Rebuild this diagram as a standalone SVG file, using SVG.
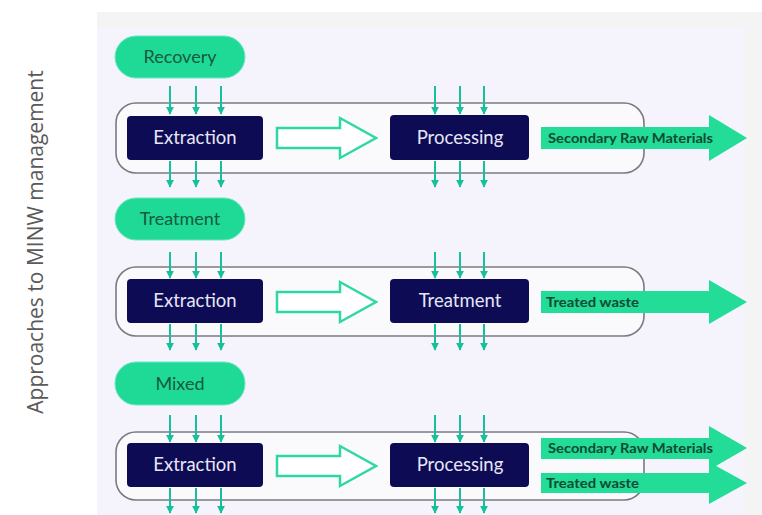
<svg xmlns="http://www.w3.org/2000/svg" width="762" height="515" viewBox="0 0 762 515">
  <defs>
    <marker id="tip" viewBox="0 0 10 10" refX="9" refY="5" markerWidth="8" markerHeight="8" markerUnits="userSpaceOnUse" orient="auto">
      <path d="M0,0 L10,5 L0,10 Z" fill="#17c09c"/>
    </marker>
    <style>
      .pill { fill: #1fd996; stroke: #6fe8bf; stroke-width: 1; }
      .pill-label { font-family: "Lato", "Liberation Sans", sans-serif; font-size: 18px; fill: #155a3e; text-anchor: middle; }
      .lane { fill: #fafafd; stroke: #7a7a80; stroke-width: 1.6; }
      .step { fill: #0e0b55; }
      .step-label { font-family: "Lato", "Liberation Sans", sans-serif; font-size: 18.5px; fill: #e6e6f5; text-anchor: middle; }
      .flow { fill: #ffffff; stroke: #2fd8a2; stroke-width: 2.5; stroke-linejoin: miter; }
      .out { fill: #22dc98; }
      .out-label { font-family: "Lato", "Liberation Sans", sans-serif; font-size: 13.5px; font-weight: bold; fill: #114a32; }
      .io { stroke: #17c09c; stroke-width: 2; fill: none; marker-end: url(#tip); }
      .axis { font-family: "Open Sans", "Liberation Sans", sans-serif; font-size: 21px; fill: #5a5a5a; text-anchor: middle; }
    </style>
  </defs>

  <!-- page background -->
  <rect x="0" y="0" width="762" height="515" fill="#ffffff"/>
  <rect x="97" y="12" width="665" height="503" fill="#f4f4f5"/>
  <rect x="97" y="28" width="648" height="487" fill="#f5f4fc"/>

  <text class="axis" transform="translate(43,242) rotate(-90)">Approaches to MINW management</text>

  <!-- lanes -->
  <g id="lane-recovery">
    <rect class="lane" x="116" y="103" width="528" height="70" rx="20"/>
  </g>
  <g id="lane-treatment">
    <rect class="lane" x="116" y="267" width="528" height="69" rx="20"/>
  </g>
  <g id="lane-mixed">
    <rect class="lane" x="116" y="432" width="528" height="68" rx="20"/>
  </g>

  <!-- approach labels -->
  <g id="approach-recovery">
    <rect class="pill" x="115" y="36" width="130" height="42" rx="21"/>
    <text class="pill-label" x="180" y="63">Recovery</text>
  </g>
  <g id="approach-treatment">
    <rect class="pill" x="115" y="198" width="130" height="42" rx="21"/>
    <text class="pill-label" x="180" y="225">Treatment</text>
  </g>
  <g id="approach-mixed">
    <rect class="pill" x="115" y="362" width="130" height="43" rx="21"/>
    <text class="pill-label" x="180" y="390">Mixed</text>
  </g>

  <!-- process steps -->
  <g id="extraction-1">
    <rect class="step" x="127" y="116" width="136" height="44" rx="4"/>
    <text class="step-label" x="195" y="144">Extraction</text>
  </g>
  <g id="processing-1">
    <rect class="step" x="390" y="115" width="139" height="45" rx="4"/>
    <text class="step-label" x="460" y="144">Processing</text>
  </g>
  <g id="extraction-2">
    <rect class="step" x="127" y="279" width="136" height="44" rx="4"/>
    <text class="step-label" x="195" y="307">Extraction</text>
  </g>
  <g id="treatment-2">
    <rect class="step" x="390" y="279" width="139" height="44" rx="4"/>
    <text class="step-label" x="460" y="307">Treatment</text>
  </g>
  <g id="extraction-3">
    <rect class="step" x="127" y="443" width="136" height="44" rx="4"/>
    <text class="step-label" x="195" y="471">Extraction</text>
  </g>
  <g id="processing-3">
    <rect class="step" x="390" y="443" width="139" height="44" rx="4"/>
    <text class="step-label" x="460" y="471">Processing</text>
  </g>

  <!-- outputs -->
  <g id="output-1">
    <path class="out" d="M541,127 H709 V115 L747,138 L709,161 V149 H541 Z"/>
    <text class="out-label" x="548" y="143" textLength="165" lengthAdjust="spacingAndGlyphs">Secondary Raw Materials</text>
  </g>
  <g id="output-2">
    <path class="out" d="M541,291 H709 V280 L747,302 L709,324 V313 H541 Z"/>
    <text class="out-label" x="546" y="307" textLength="93" lengthAdjust="spacingAndGlyphs">Treated waste</text>
  </g>
  <g id="output-3a">
    <path class="out" d="M541,438 H709 V426 L747,448 L709,470 V459 H541 Z"/>
    <text class="out-label" x="548" y="453" textLength="165" lengthAdjust="spacingAndGlyphs">Secondary Raw Materials</text>
  </g>
  <g id="output-3b">
    <path class="out" d="M541,473 H709 V462 L747,483 L709,504 V493 H541 Z"/>
    <text class="out-label" x="546" y="488" textLength="93" lengthAdjust="spacingAndGlyphs">Treated waste</text>
  </g>

  <!-- connectors -->
  <g id="connectors">
    <!-- hollow flow arrows between steps -->
    <path class="flow" d="M277,128 H340 V118 L376,138 L340,158 V148 H277 Z"/>
    <path class="flow" d="M277,292 H340 V282 L376,302 L340,322 V312 H277 Z"/>
    <path class="flow" d="M277,456 H340 V446 L376,466 L340,486 V476 H277 Z"/>

    <!-- inputs and outputs, row 1 -->
    <path class="io" d="M170,86 V114"/><path class="io" d="M196,86 V114"/><path class="io" d="M221,86 V114"/>
    <path class="io" d="M170,161 V187"/><path class="io" d="M196,161 V187"/><path class="io" d="M221,161 V187"/>
    <path class="io" d="M435,86 V114"/><path class="io" d="M460,86 V114"/><path class="io" d="M484,86 V114"/>
    <path class="io" d="M435,161 V187"/><path class="io" d="M460,161 V187"/><path class="io" d="M484,161 V187"/>

    <!-- inputs and outputs, row 2 -->
    <path class="io" d="M170,252 V278"/><path class="io" d="M196,252 V278"/><path class="io" d="M221,252 V278"/>
    <path class="io" d="M170,324 V350"/><path class="io" d="M196,324 V350"/><path class="io" d="M221,324 V350"/>
    <path class="io" d="M435,252 V278"/><path class="io" d="M460,252 V278"/><path class="io" d="M484,252 V278"/>
    <path class="io" d="M435,324 V350"/><path class="io" d="M460,324 V350"/><path class="io" d="M484,324 V350"/>

    <!-- inputs and outputs, row 3 -->
    <path class="io" d="M170,415 V442"/><path class="io" d="M196,415 V442"/><path class="io" d="M221,415 V442"/>
    <path class="io" d="M170,488 V513"/><path class="io" d="M196,488 V513"/><path class="io" d="M221,488 V513"/>
    <path class="io" d="M435,415 V442"/><path class="io" d="M460,415 V442"/><path class="io" d="M484,415 V442"/>
    <path class="io" d="M435,488 V513"/><path class="io" d="M460,488 V513"/><path class="io" d="M484,488 V513"/>
  </g>
</svg>
